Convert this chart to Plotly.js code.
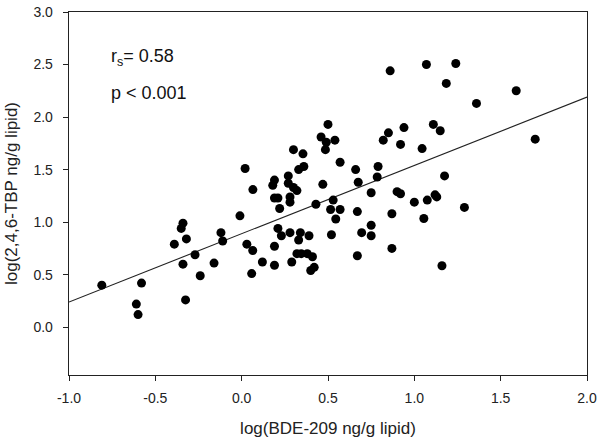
<!DOCTYPE html>
<html>
<head>
<meta charset="utf-8">
<script src="https://cdn.plot.ly/plotly-3.0.1.min.js"></script>
<style>html,body{margin:0;padding:0;background:#fff;}#chart{width:604px;height:443px;}</style>
</head>
<body>
<div id="chart"></div>
<script>
// log(BDE-209 ng/g lipid)
const bdeLog = [
  -0.81, -0.61, -0.60, -0.58, -0.39, -0.35, -0.34, -0.32, -0.34, -0.325,
  -0.27, -0.24, -0.16, -0.12, -0.11, -0.01, 0.02, 0.065, 0.03, 0.064,
  0.058, 0.12, 0.19, 0.19, 0.21, 0.23, 0.28, 0.29, 0.34, 0.33,
  0.32, 0.345, 0.38, 0.41, 0.39, 0.40, 0.42, 0.47, 0.43, 0.515,
  0.52, 0.19, 0.18, 0.27, 0.27, 0.30, 0.32, 0.19, 0.21, 0.22,
  0.28, 0.28, 0.33, 0.36, 0.30, 0.355, 0.50, 0.46, 0.49, 0.485,
  0.54, 0.57, 0.66, 0.675, 0.79, 0.785, 0.82, 0.85, 0.94, 0.92,
  1.045, 1.11, 1.15, 1.175, 0.75, 0.90, 0.92, 1.12, 1.13, 1.075,
  1.00, 1.29, 0.53, 0.57, 0.545, 0.67, 0.87, 1.055, 0.695, 0.75,
  0.75, 0.87, 0.67, 1.16, 0.86, 1.07, 1.24, 1.185, 1.59, 1.36,
  1.70
];
// log(2,4,6-TBP ng/g lipid)
const tbpLog = [
  0.40, 0.22, 0.12, 0.42, 0.79, 0.94, 0.99, 0.84, 0.60, 0.26,
  0.69, 0.49, 0.61, 0.90, 0.82, 1.06, 1.51, 1.31, 0.79, 0.73,
  0.51, 0.62, 0.59, 0.77, 0.94, 0.87, 0.90, 0.62, 0.90, 0.83,
  0.70, 0.70, 0.70, 0.67, 0.87, 0.54, 0.57, 1.36, 1.17, 1.12,
  0.88, 1.40, 1.35, 1.44, 1.37, 1.33, 1.30, 1.23, 1.23, 1.13,
  1.24, 1.19, 1.50, 1.53, 1.69, 1.65, 1.93, 1.81, 1.76, 1.69,
  1.78, 1.57, 1.50, 1.38, 1.53, 1.43, 1.78, 1.85, 1.90, 1.74,
  1.70, 1.93, 1.87, 1.44, 1.28, 1.29, 1.27, 1.26, 1.24, 1.21,
  1.19, 1.14, 1.21, 1.12, 1.03, 1.10, 1.08, 1.035, 0.90, 0.97,
  0.87, 0.75, 0.68, 0.585, 2.44, 2.50, 2.51, 2.32, 2.25, 2.13,
  1.79
];
// regression line end points
const fitX = [-1.0, 2.0];
const fitY = [0.24, 2.19];
// ticks and tick labels
const xTicks = [-1.0, -0.5, 0.0, 0.5, 1.0, 1.5, 2.0];
const xTickLabels = ["-1.0", "-0.5", "0.0", "0.5", "1.0", "1.5", "2.0"];
const yTicks = [0.0, 0.5, 1.0, 1.5, 2.0, 2.5, 3.0];
const yTickLabels = ["0.0", "0.5", "1.0", "1.5", "2.0", "2.5", "3.0"];
const statRs = "r<sub>s</sub>= 0.58";
const statP = "p < 0.001";

const font = "Liberation Sans, Arial, sans-serif";

const traces = [
  {
    x: fitX, y: fitY, type: "scatter", mode: "lines",
    line: {color: "#222", width: 1.1}, hoverinfo: "skip", showlegend: false
  },
  {
    x: bdeLog, y: tbpLog, type: "scatter", mode: "markers",
    marker: {color: "#000", size: 9, symbol: "circle"}, showlegend: false
  }
];

const axisCommon = {
  showgrid: false, zeroline: false, showline: true, mirror: true,
  linecolor: "#222", linewidth: 1.3,
  ticks: "outside", ticklen: 5, tickwidth: 1, tickcolor: "#222",
  tickfont: {family: font, size: 14, color: "#222"},
  tickmode: "array"
};

const layout = {
  width: 604, height: 443,
  margin: {l: 69, r: 17, t: 12, b: 68},
  paper_bgcolor: "#fff", plot_bgcolor: "#fff",
  font: {family: font, color: "#222"},
  xaxis: Object.assign({}, axisCommon, {
    range: [-1.0, 2.0], tickvals: xTicks, ticktext: xTickLabels, ticklabelstandoff: 5,
    title: {text: "log(BDE-209 ng/g lipid)", font: {family: font, size: 17, color: "#222"}, standoff: 17}
  }),
  yaxis: Object.assign({}, axisCommon, {
    range: [-0.455, 3.0], tickvals: yTicks, ticktext: yTickLabels, ticklabelstandoff: 7,
    title: {text: "log(2,4,6-TBP ng/g lipid)", font: {family: font, size: 17, color: "#222"}, standoff: 11}
  }),
  annotations: [
    {x: -0.77, y: 2.57, xref: "x", yref: "y", text: statRs, showarrow: false,
     xanchor: "left", yanchor: "middle", font: {family: font, size: 18, color: "#111"}},
    {x: -0.77, y: 2.23, xref: "x", yref: "y", text: statP, showarrow: false,
     xanchor: "left", yanchor: "middle", font: {family: font, size: 18, color: "#111"}}
  ]
};

Plotly.newPlot("chart", traces, layout, {displayModeBar: false, staticPlot: true});
</script>
</body>
</html>
